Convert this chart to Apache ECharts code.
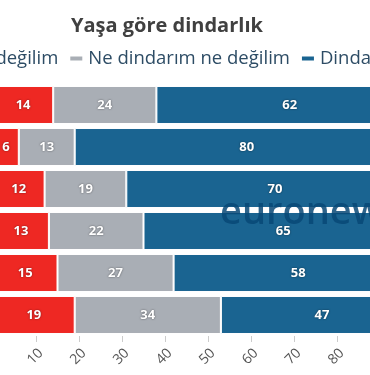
<!DOCTYPE html>
<html><head><meta charset="utf-8">
<script src="https://cdn.jsdelivr.net/npm/echarts@6/dist/echarts.min.js"></script>
<style>
html,body{margin:0;padding:0;width:370px;height:375px;overflow:hidden;background:#fff;}
#c{position:absolute;left:-100px;top:0;width:600px;height:375px;}
</style></head>
<body><div id="c"></div>
<script>
const categories = ["18-24", "25-34", "35-44", "45-54", "55-64", "65+"];
const seriesNames = ["Dindar değilim", "Ne dindarım ne değilim", "Dindarım"];
const notReligious = [14, 6, 12, 13, 15, 19];
const neither = [24, 13, 19, 22, 27, 34];
const religious = [62, 80, 70, 65, 58, 47];
const xTicks = [0, 10, 20, 30, 40, 50, 60, 70, 80, 90, 100];

const colors = ["#ee2823", "#a9aeb5", "#1a6491"];
const FONT = '"Open Sans", sans-serif';
const chart = echarts.init(document.getElementById('c'), null, {renderer: 'canvas'});
const label = {
  show: true, position: 'inside', color: '#fff', fontWeight: 'bold', fontSize: 13,
  fontFamily: FONT, textShadowColor: 'rgba(0,0,0,0.55)', textShadowBlur: 2
};
const datasets = [notReligious, neither, religious];
chart.setOption({
  animation: false,
  textStyle: {fontFamily: FONT},
  title: {
    text: 'Yaşa göre dindarlık', left: 166, top: 11,
    textStyle: {fontSize: 20, fontWeight: 'bold', color: '#404040', fontFamily: FONT}
  },
  legend: {
    left: 7, top: 44, itemWidth: 14, itemHeight: 6, itemGap: 10,
    icon: 'rect',
    textStyle: {fontSize: 18.5, color: '#2d4c65', fontFamily: FONT},
    data: seriesNames
  },
  grid: {left: 93, width: 430, top: 84, bottom: 34, containLabel: false},
  xAxis: {
    type: 'value', min: xTicks[0], max: xTicks[xTicks.length - 1], interval: 10,
    splitLine: {show: false},
    axisLine: {show: false},
    axisTick: {show: true, length: 6, lineStyle: {color: '#ccc'}},
    axisLabel: {rotate: 45, color: '#555', fontSize: 14, fontFamily: FONT, margin: 10,
      align: 'right', verticalAlign: 'top'}
  },
  yAxis: {
    type: 'category', data: categories, inverse: true,
    axisLine: {show: false}, axisTick: {show: false}, axisLabel: {show: false}
  },
  graphic: [{
    type: 'text', left: 320, top: 194, z: 100,
    style: {text: 'euronews', fill: 'rgba(8,72,118,0.85)', font: '600 38px "Open Sans", sans-serif'}
  }],
  series: seriesNames.map((n, i) => ({
    name: n, type: 'bar', stack: 'total', data: datasets[i], barWidth: 38,
    itemStyle: {color: colors[i], borderColor: '#fff', borderWidth: 1},
    label: label
  }))
});
</script></body></html>
